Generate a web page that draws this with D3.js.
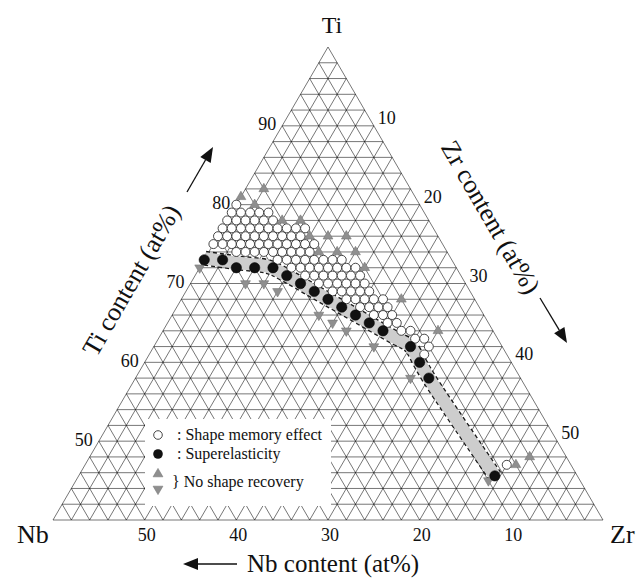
<!DOCTYPE html>
<html><head><meta charset="utf-8">
<script src="https://cdn.jsdelivr.net/npm/d3@7"></script>
<style>body{margin:0;background:#fff}svg{display:block}text{font-family:"Liberation Serif","Times New Roman",serif;fill:#111}</style>
</head><body><svg id="c" width="638" height="579"></svg>
<script>
// ---- data (compositions as [Ti, Zr] in at%; Nb = 100 - Ti - Zr) ----
const tiTicks = [50, 60, 70, 80, 90];
const zrTicks = [10, 20, 30, 40, 50];
const nbTicks = [50, 40, 30, 20, 10];

const shapeMemory = [
  [80,0],
  [79,0],[79,1],[79,2],[79,3],[79,4],
  [78,0],[78,1],[78,2],[78,3],[78,4],[78,5],
  [77,0],[77,1],[77,2],[77,3],[77,4],[77,5],[77,6],[77,7],[77,8],[77,9],
  [76,0],[76,1],[76,2],[76,3],[76,4],[76,5],[76,6],[76,7],[76,8],[76,9],
  [75,0],[75,1],[75,2],[75,3],[75,4],[75,5],[75,6],[75,7],[75,8],[75,9],[75,10],[75,11],
  [74,3],[74,4],[74,5],[74,6],[74,7],[74,8],[74,9],[74,10],[74,11],
  [73,8],[73,9],[73,10],[73,11],[73,12],[73,13],[73,14],[73,15],
  [72,10],[72,11],[72,12],[72,13],[72,14],[72,15],[72,16],[72,17],
  [71,12],[71,13],[71,14],[71,15],[71,16],[71,17],[71,18],
  [70,14],[70,15],[70,16],[70,17],[70,18],[70,19],
  [69,16],[69,17],[69,18],[69,19],[69,20],
  [68,18],[68,19],[68,20],[68,21],[68,22],
  [67,20],[67,21],[67,22],[67,23],
  [66,22],[66,23],[66,24],
  [65,24],[65,25],
  [64,26],[64,27],
  [63,28],[63,29],
  [62,30],[61,30],
  [47,46]
];
const superelastic = [
  [73,0],[73,2],[72,4],[72,6],[72,8],[71,10],[70,12],[69,14],[68,16],
  [67,18],[66,20],[65,22],[64,24],[62,28],[60,30],[58,32],[45.6,45.4]
];
const noRecoveryUp = [
  [82,2],[81,0],[80,2],[78,6],[78,8],[76,10],[76,12],[76,14],
  [74,12],[74,14],[74,16],[72,18],[68,24],[64,30],[47,47],[48,48]
];
const noRecoveryDown = [
  [72,0],[70,6],[70,8],[69,10],[66,16],[65,18],[64,20],[62,24],[58,30],[45,45]
];
const bandPath = [
  [73.2,0],[72.6,4],[72.1,7.5],[71,10],[69,14],[67,18],[65,22],
  [63.2,25.6],[62,28],[60,30],[58,32],[45.6,45.4]
];

// ---- scales ----
const svg = d3.select('#c');
const sy = d3.scaleLinear().domain([40, 100]).range([520, 47]);   // Ti
const sx = d3.scaleLinear().domain([-60, 60]).range([53, 603]);   // Zr - Nb
const px = d => sx(d[1] - (100 - d[0] - d[1]));
const py = d => sy(d[0]);

// ---- grid ----
const grid = svg.append('g').attr('stroke', '#000').attr('stroke-opacity', 0.6).attr('stroke-width', 0.9).attr('fill', 'none');
const segs = [];
d3.range(40, 101, 2).forEach(t => segs.push([[t, 0], [t, 100 - t]]));          // const Ti
d3.range(0, 61, 2).forEach(z => segs.push([[100 - z, z], [40, z]]));           // const Zr
d3.range(0, 61, 2).forEach(n => segs.push([[100 - n, 0], [40, 60 - n]]));      // const Nb
grid.selectAll('line').data(segs).join('line')
  .attr('x1', s => px(s[0])).attr('y1', s => py(s[0]))
  .attr('x2', s => px(s[1])).attr('y2', s => py(s[1]));

// ---- band ----
const bline = d3.line().x(px).y(py).curve(d3.curveCatmullRom.alpha(0.5));
svg.append('path').attr('d', bline(bandPath)).attr('fill', 'none')
  .attr('stroke', '#1a1a1a').attr('stroke-width', 15).attr('stroke-dasharray', '4 3');
svg.append('path').attr('d', bline(bandPath)).attr('fill', 'none')
  .attr('stroke', '#cdcdcd').attr('stroke-width', 12.4);

// ---- markers ----
const triUp = 'M0,-5.6L4.9,2.8L-4.9,2.8Z';
const triDown = 'M0,5.6L4.9,-2.8L-4.9,-2.8Z';
svg.append('g').selectAll('path').data(noRecoveryUp).join('path')
  .attr('d', triUp).attr('transform', d => `translate(${px(d)},${py(d)})`)
  .attr('fill', '#8f8f8f').attr('stroke', '#777').attr('stroke-width', 0.6);
svg.append('g').selectAll('path').data(noRecoveryDown).join('path')
  .attr('d', triDown).attr('transform', d => `translate(${px(d)},${py(d)})`)
  .attr('fill', '#8f8f8f').attr('stroke', '#777').attr('stroke-width', 0.6);
svg.append('g').selectAll('circle').data(shapeMemory).join('circle')
  .attr('cx', px).attr('cy', py).attr('r', 4.5)
  .attr('fill', '#fff').attr('stroke', '#333').attr('stroke-width', 0.9);
svg.append('g').selectAll('circle').data(superelastic).join('circle')
  .attr('cx', px).attr('cy', py).attr('r', 5.2)
  .attr('fill', '#111').attr('stroke', '#000').attr('stroke-width', 0.5);

// ---- legend ----
svg.append('rect').attr('x', 145).attr('y', 419).attr('width', 186).attr('height', 87).attr('fill', '#fff');
const lg = svg.append('g');
lg.append('circle').attr('cx', 158).attr('cy', 435).attr('r', 4.3).attr('fill', '#fff').attr('stroke', '#333').attr('stroke-width', 0.9);
lg.append('circle').attr('cx', 158).attr('cy', 454).attr('r', 4.8).attr('fill', '#111');
lg.append('path').attr('d', triUp).attr('transform', 'translate(158,474)').attr('fill', '#8f8f8f').attr('stroke', '#777').attr('stroke-width', 0.6);
lg.append('path').attr('d', triDown).attr('transform', 'translate(158,489)').attr('fill', '#8f8f8f').attr('stroke', '#777').attr('stroke-width', 0.6);
lg.append('text').attr('x', 177).attr('y', 440).attr('font-size', 16).text(': Shape memory effect');
lg.append('text').attr('x', 177).attr('y', 459).attr('font-size', 16).text(': Superelasticity');
lg.append('text').attr('x', 172).attr('y', 487).attr('font-size', 16).text('} No shape recovery');

// ---- tick labels ----
const tk = svg.append('g').attr('font-size', 18);
tk.selectAll('text.ti').data(tiTicks).join('text').attr('class', 'ti')
  .attr('x', t => px([t, 0]) - 6).attr('y', t => py([t, 0]) + 4.6)
  .attr('text-anchor', 'end').text(t => t);
tk.selectAll('text.zr').data(zrTicks).join('text').attr('class', 'zr')
  .attr('x', z => px([100 - z, z]) + 4).attr('y', z => py([100 - z, z]) - 2)
  .attr('text-anchor', 'start').text(z => z);
tk.selectAll('text.nb').data(nbTicks).join('text').attr('class', 'nb')
  .attr('x', n => px([40, 60 - n]) + 2).attr('y', 541)
  .attr('text-anchor', 'middle').text(n => n);

// ---- corner labels ----
svg.append('text').attr('x', 332).attr('y', 33).attr('text-anchor', 'middle').attr('font-size', 24).text('Ti');
svg.append('text').attr('x', 17).attr('y', 543).attr('font-size', 26).text('Nb');
svg.append('text').attr('x', 610).attr('y', 543).attr('font-size', 26).text('Zr');

// ---- axis titles + arrows ----
svg.append('text').attr('x', 247).attr('y', 572).attr('font-size', 25).text('Nb content (at%)');
svg.append('text').attr('transform', 'translate(131,280) rotate(-60)').attr('y', 9)
  .attr('text-anchor', 'middle').attr('font-size', 26).text('Ti content (at%)');
svg.append('text').attr('transform', 'translate(491,217) rotate(60)').attr('y', 9)
  .attr('text-anchor', 'middle').attr('font-size', 26).text('Zr content (at%)');

function arrow(x1, y1, x2, y2) {
  const a = Math.atan2(y2 - y1, x2 - x1), L = 15, w = 6;
  const bx = x2 - L * Math.cos(a), by = y2 - L * Math.sin(a);
  svg.append('line').attr('x1', x1).attr('y1', y1).attr('x2', bx).attr('y2', by)
    .attr('stroke', '#111').attr('stroke-width', 1.3);
  const nx = -Math.sin(a) * w, ny = Math.cos(a) * w;
  svg.append('path').attr('d', `M${x2},${y2}L${bx + nx},${by + ny}L${bx - nx},${by - ny}Z`).attr('fill', '#111');
}
arrow(237, 564, 183, 564);
arrow(187, 192, 213, 147);
arrow(540, 298, 567, 343);
</script></body></html>
